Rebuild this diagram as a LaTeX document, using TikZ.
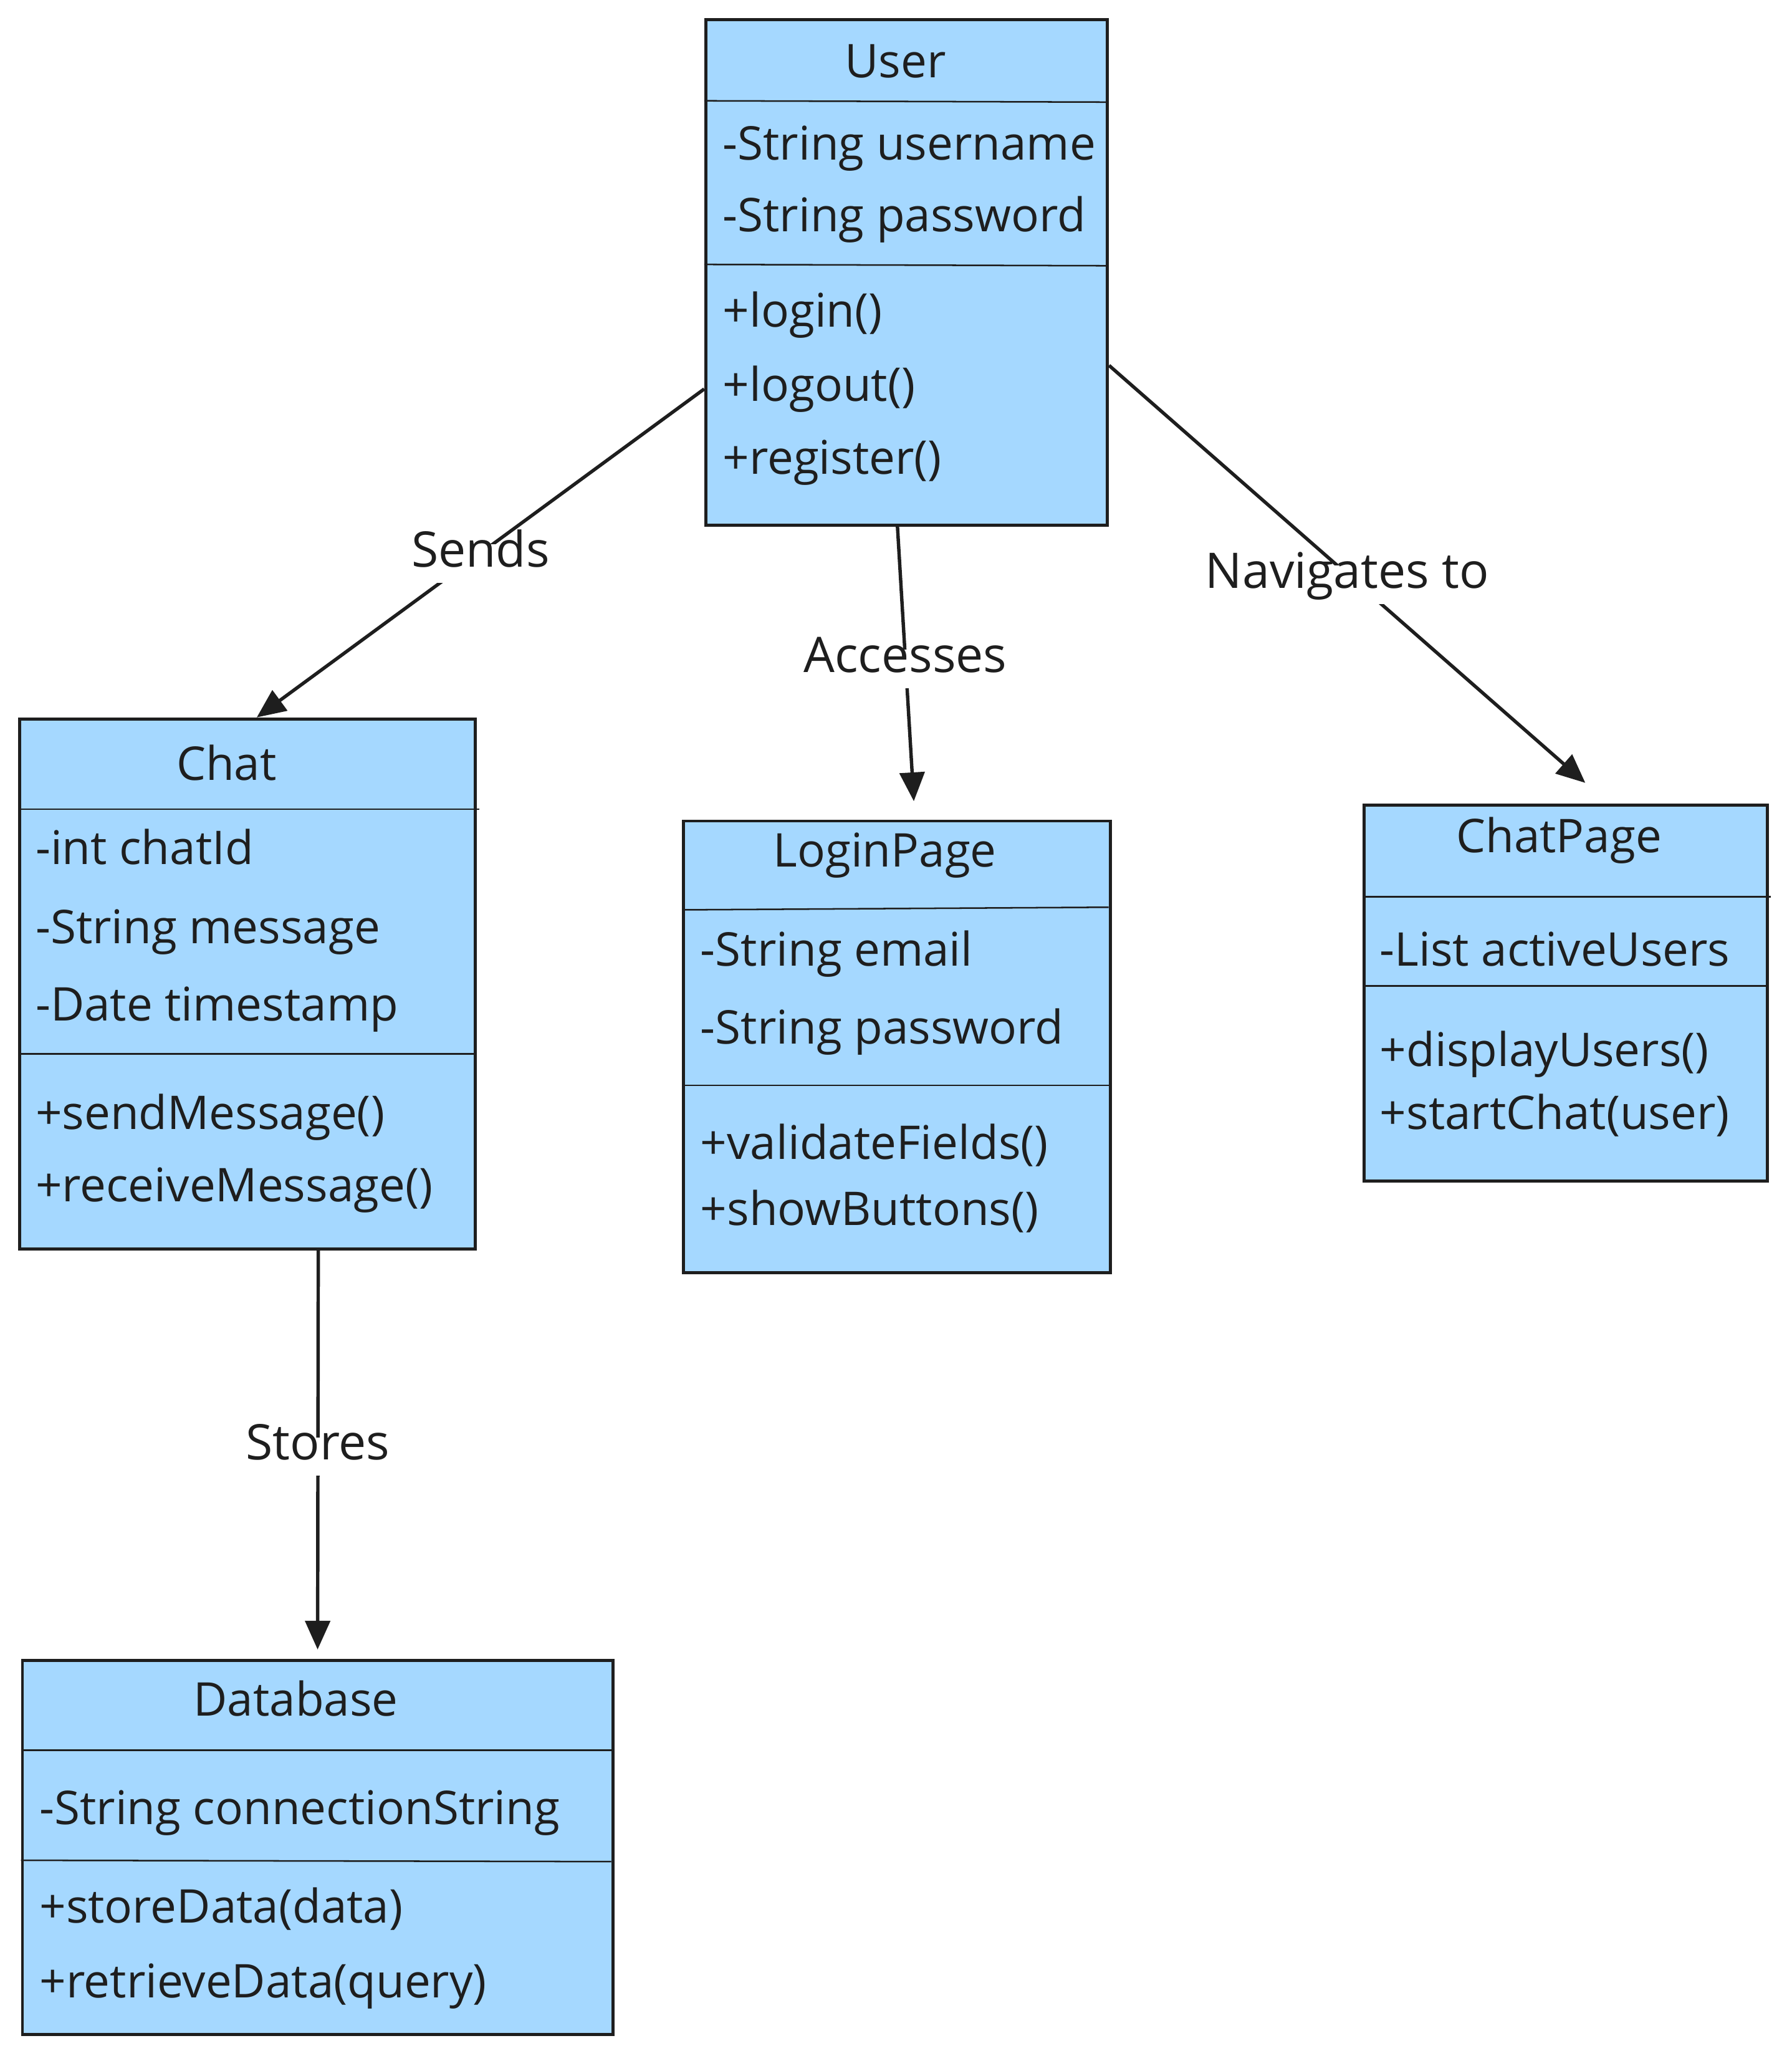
\documentclass[tikz,border=0pt]{standalone}
\usepackage{fontspec}
\setmainfont{Open Sans}
\usetikzlibrary{arrows.meta,calc}
\definecolor{boxfill}{HTML}{A5D8FF}
\definecolor{ink}{HTML}{1E1E1E}
\begin{document}
\begin{tikzpicture}[x=1pt,y=-1pt,
  cls/.style={draw=ink, fill=boxfill, line width=2.3pt, inner sep=0pt, anchor=north west},
  sep/.style={draw=ink, line width=1.2pt},
  txt/.style={anchor=base west, inner sep=0pt, font=\fontsize{35.5}{42}\selectfont, text=ink},
  ttl/.style={txt, anchor=base},
  conn/.style={draw=ink, line width=2.6pt, -{Triangle[length=22pt,width=19pt]}},
  lbl/.style={fill=white, inner xsep=3pt, inner ysep=10pt, yshift=-8pt, text height=0.72em, text depth=0.22em, font=\fontsize{37.5}{44}\selectfont, text=ink}
]
\useasboundingbox (0,0) rectangle (1369,1570.5);

% User
\node[cls, minimum width=307pt, minimum height=386pt] (user) at (538,14) {};
\draw[sep] (538,77) -- (845,78);
\draw[sep] (538,202) -- (845,203);
\node[ttl] (userT) at (684,59.3) {User};
\node[txt] (userA1) at (552,122.1) {-String username};
\node[txt] (userA2) at (552,176.8) {-String password};
\node[txt] (userM1) at (552,249.7) {+login()};
\node[txt] (userM2) at (552,306.3) {+logout()};
\node[txt] (userM3) at (552,362) {+register()};

% Chat
\node[cls, minimum width=348pt, minimum height=405pt] (chat) at (14,548) {};
\draw[sep] (14,618) -- (366,618);
\draw[sep] (14,805) -- (362,805);
\node[ttl] (chatT) at (173,596) {Chat};
\node[txt] (chatA1) at (27,660.4) {-int chatId};
\node[txt] (chatA2) at (27,720.7) {-String message};
\node[txt] (chatA3) at (27,779.6) {-Date timestamp};
\node[txt] (chatM1) at (27,862.5) {+sendMessage()};
\node[txt] (chatM2) at (27,917.7) {+receiveMessage()};

% LoginPage
\node[cls, minimum width=326pt, minimum height=345pt] (login) at (521,626) {};
\draw[sep] (521,695) -- (847,693);
\draw[sep] (521,829) -- (847,829);
\node[ttl] (loginT) at (676,662.1) {LoginPage};
\node[txt] (loginA1) at (535,737.8) {-String email};
\node[txt] (loginA2) at (535,797.6) {-String password};
\node[txt] (loginM1) at (535,885.3) {+validateFields()};
\node[txt] (loginM2) at (535,935.8) {+showButtons()};

% ChatPage
\node[cls, minimum width=308pt, minimum height=287pt] (chatpage) at (1041,614) {};
\draw[sep] (1041,685) -- (1353,685);
\draw[sep] (1041,753) -- (1351,753);
\node[ttl] (chatpageT) at (1191,651) {ChatPage};
\node[txt] (chatpageA1) at (1054,737.8) {-List activeUsers};
\node[txt] (chatpageM1) at (1054,814.7) {+displayUsers()};
\node[txt] (chatpageM2) at (1054,862.5) {+startChat(user)};

% Database
\node[cls, minimum width=451pt, minimum height=286pt] (db) at (16,1267) {};
\draw[sep] (16,1337) -- (467,1337);
\draw[sep] (16,1421) -- (467,1422);
\node[ttl] (dbT) at (226,1310.8) {Database};
\node[txt] (dbA1) at (30,1393.7) {-String connectionString};
\node[txt] (dbM1) at (30,1468.6) {+storeData(data)};
\node[txt] (dbM2) at (30,1525.9) {+retrieveData(query)};

% Connectors
\draw[conn] ([yshift=-89pt]user.west) -- node[lbl, pos=0.5] (lsends) {Sends} ([xshift=7pt]chat.north);
\draw[conn] ([xshift=-7pt]user.south) -- node[lbl, pos=0.48] (lacc) {Accesses} ([xshift=13pt,yshift=14pt]login.north);
\draw[conn] ([yshift=-71pt]user.east) -- node[lbl, pos=0.5] (lnav) {Navigates to} ([xshift=15pt,yshift=16pt]chatpage.north);
\draw[conn] ([xshift=54pt]chat.south) -- node[lbl, pos=0.49] (lstore) {Stores} ([yshift=7pt]db.north);
\end{tikzpicture}
\end{document}
